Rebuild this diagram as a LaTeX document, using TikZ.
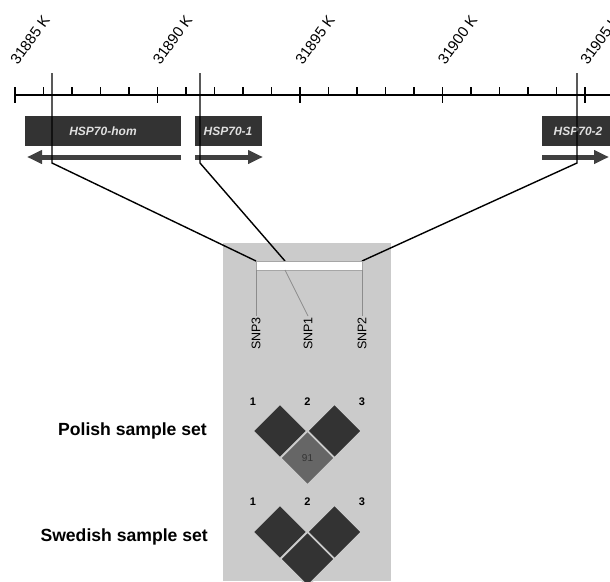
\documentclass[tikz,border=0pt]{standalone}
\usepackage{fontspec}
\setmainfont{Liberation Sans}
\usetikzlibrary{arrows.meta}
\definecolor{genebox}{HTML}{333333}
\definecolor{ldgray}{HTML}{CBCBCB}

\begin{document}
\begin{tikzpicture}[x=1pt,y=-1pt,
    gene/.style={fill=genebox},
    genelabel/.style={text=black!12,font=\fontsize{12}{12}\selectfont\bfseries\itshape},
    strand/.style={draw=black!75,line width=5pt,-{Triangle[length=15pt,width=13pt]}},
    posline/.style={line width=1.4pt},
    snpline/.style={draw=black!45,line width=0.8pt},
    snplabel/.style={rotate=90,anchor=east,font=\fontsize{12.5}{12.5}\selectfont,inner sep=1pt},
    marker/.style={font=\fontsize{11}{11}\selectfont\bfseries},
    setlabel/.style={anchor=east,font=\fontsize{17.6}{17.6}\selectfont\bfseries,inner sep=0pt},
    axislabel/.style={rotate=54,font=\fontsize{15}{15}\selectfont,inner sep=0pt}]
  \useasboundingbox (0,0) rectangle (610,581);
  % grey panel behind the LD plot
  \fill[ldgray] (223,243) rectangle (391,581);
  % the scale
  \draw[line width=1.3pt] (15,95) -- (610,95);
  \foreach \i in {0,...,20}{
    \pgfmathtruncatemacro{\m}{mod(\i,5)}
    \ifnum\m=0
      \draw[line width=1.3pt] (15+\i*28.5,87) -- (15+\i*28.5,103);
    \else
      \draw[line width=1.3pt] (15+\i*28.5,87) -- (15+\i*28.5,95);
    \fi
  }
  \foreach \k/\lab in {0/31885,1/31890,2/31895,3/31900,4/31905}
    \node[axislabel] (pos\k) at (30+\k*142.5,40) {\lab\ K};
  % genes
  \fill[gene] (25,116) rectangle (181,146);
  \node[genelabel] (hom) at (103,131) {HSP70-hom};
  \fill[gene] (195,116) rectangle (262,146);
  \node[genelabel] (h1) at (228,131) {HSP70-1};
  \fill[gene] (542,116) rectangle (612,146);
  \node[genelabel] (h2) at (578,131) {HSP70-2};
  \coordinate (homR) at (181,157);
  \coordinate (homL) at (27,157);
  \coordinate (h1L) at (195,157);
  \coordinate (h1R) at (263,157);
  \coordinate (h2L) at (542,157);
  \coordinate (h2R) at (609,157);
  \draw[strand] (homR) -- (homL);
  \draw[strand] (h1L) -- (h1R);
  \draw[strand] (h2L) -- (h2R);
  % SNP positions
  \coordinate (snp3a) at (52,73);  \coordinate (snp3b) at (52,163);  \coordinate (snp3c) at (256,261);
  \coordinate (snp1a) at (200,73); \coordinate (snp1b) at (200,163); \coordinate (snp1c) at (285,261);
  \coordinate (snp2a) at (577,73); \coordinate (snp2b) at (577,163); \coordinate (snp2c) at (362,261);
  \draw[posline] (snp3a) -- (snp3b) -- (snp3c);
  \draw[posline] (snp1a) -- (snp1b) -- (snp1c);
  \draw[posline] (snp2a) -- (snp2b) -- (snp2c);
  \filldraw[fill=white,draw=black!35,line width=0.8pt] (snp3c) rectangle (362,270);
  \node[snplabel] (snp3) at (256,316) {SNP3};
  \node[snplabel] (snp1) at (308,316) {SNP1};
  \node[snplabel] (snp2) at (362,316) {SNP2};
  \draw[snpline] (256,270) -- (snp3.east);
  \draw[snpline] (285,270) -- (snp1.east);
  \draw[snpline] (362,270) -- (snp2.east);
  % LD plots
  \node[setlabel] (pol) at (207,431) {Polish sample set};
  \node[setlabel] (swe) at (208,537) {Swedish sample set};
  \foreach \y/\s in {402/p,502/s}{
    \node[marker] (\s1) at (253,\y) {1};
    \node[marker] (\s2) at (307.5,\y) {2};
    \node[marker] (\s3) at (362,\y) {3};
  }
  \foreach \cx/\cy/\c in {280/431/genebox,334.5/431/genebox,307.5/458/black!60,
                          280/532/genebox,334.5/532/genebox,307.5/559/genebox}
    \filldraw[fill=\c,draw=ldgray,line width=1.6pt]
      (\cx-27,\cy) -- (\cx,\cy-27) -- (\cx+27,\cy) -- (\cx,\cy+27) -- cycle;
  \node[font=\fontsize{10}{10}\selectfont,text=black!80] (ld13) at (307.5,458) {91};
\end{tikzpicture}
\end{document}
